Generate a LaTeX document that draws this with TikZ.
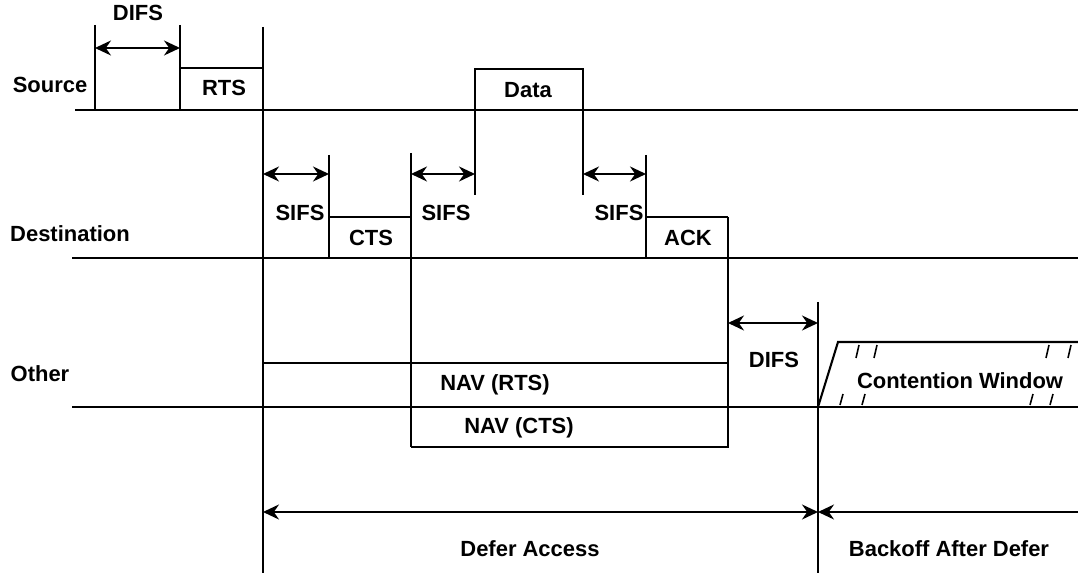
\documentclass[tikz,border=0pt]{standalone}
\usepackage{fontspec}
\setmainfont{Liberation Sans}
\usetikzlibrary{arrows.meta,calc}

\begin{document}
\begin{tikzpicture}[x=0.02cm, y=-0.02cm,
  sig/.style={line width=1.4pt},
  vbar/.style={line width=1.1pt},
  frame/.style={line width=1.2pt},
  lbl/.style={font=\fontsize{12.5}{14}\selectfont\bfseries, inner sep=0pt},
  span/.style={{Stealth[length=3.2mm,width=3mm]}-{Stealth[length=3.2mm,width=3mm]}, line width=1.2pt},
  hatch/.style={line width=0.9pt}]
\useasboundingbox (0,0) rectangle (1078,573);

% station time lines
\node[lbl] (src) at (50,85) {Source};
\node[lbl] (dst) at (70,234) {Destination};
\node[lbl] (oth) at (40,374) {Other};
\draw[sig] (75,110) -- (1078,110);
\draw[sig] (72,258) -- (1078,258);
\draw[sig] (72,407) -- (1078,407);

% frames
\draw[frame] (180,110) |- (263,68) -- (263,110);
\node[lbl] (rts) at (224,88) {RTS};
\draw[frame] (475,110) |- (583,69) -- (583,110);
\node[lbl] (data) at (528,90) {Data};
\draw[frame] (329,258) |- (411,217);
\node[lbl] (cts) at (371,238) {CTS};
\draw[frame] (646,258) |- (728,217);
\node[lbl] (ack) at (688,238) {ACK};
\draw[frame] (263,363) -- (728,363) -- (728,447) -- (411,447);
\node[lbl] (navr) at (495,385) {NAV (RTS)};
\node[lbl] (navc) at (519,428) {NAV (CTS)};
\draw[frame] (818,407) -- (838,342) -- (1078,342);
\node[lbl] (cw) at (960,381) {Contention Window};
\foreach \x in {856,874,1046,1068} \draw[hatch] (\x,358) -- (\x+3,345);
\foreach \x in {840,862,1030,1050} \draw[hatch] (\x,405) -- (\x+3,394);

% time markers
\draw[vbar] (95,25) -- (95,110);
\draw[vbar] (180,25) -- (180,68);
\draw[vbar] (263,27) -- (263,573);
\draw[vbar] (329,155) -- (329,217);
\draw[vbar] (411,153) -- (411,447);
\draw[vbar] (475,110) -- (475,195);
\draw[vbar] (583,110) -- (583,195);
\draw[vbar] (646,155) -- (646,217);
\draw[vbar] (728,217) -- (728,363);
\draw[vbar] (818,302) -- (818,573);

% interframe spaces
\coordinate (d0) at (95,48);  \coordinate (d1) at (180,48);
\draw[span] (d0) -- (d1);
\node[lbl] (difsa) at (138,13) {DIFS};
\coordinate (s0) at (263,174); \coordinate (s1) at (329,174);
\draw[span] (s0) -- (s1);
\node[lbl] (sifsa) at (300,213) {SIFS};
\coordinate (s2) at (411,174); \coordinate (s3) at (475,174);
\draw[span] (s2) -- (s3);
\node[lbl] (sifsb) at (446,213) {SIFS};
\coordinate (s4) at (583,174); \coordinate (s5) at (646,174);
\draw[span] (s4) -- (s5);
\node[lbl] (sifsc) at (619,213) {SIFS};
\coordinate (d2) at (728,323); \coordinate (d3) at (818,323);
\draw[span] (d2) -- (d3);
\node[lbl] (difsb) at (774,360) {DIFS};

% defer / backoff
\coordinate (da) at (263,512); \coordinate (db) at (818,512); \coordinate (dc) at (1078,512);
\draw[span] (da) -- (db);
\draw[line width=1.2pt, {Stealth[length=3.2mm,width=3mm]}-] (db) -- (dc);
\node[lbl] (defer) at (530,549) {Defer Access};
\node[lbl] (boff) at (949,549) {Backoff After Defer};
\end{tikzpicture}
\end{document}
